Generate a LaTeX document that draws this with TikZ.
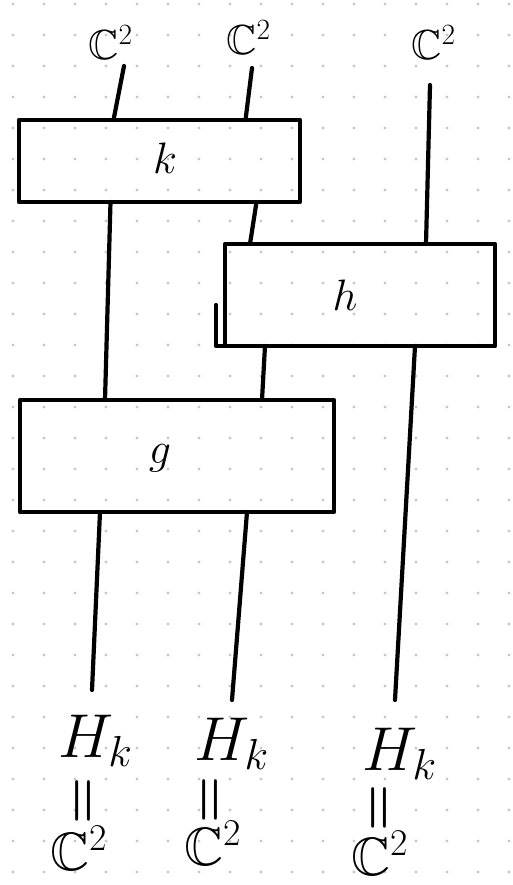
\RequirePackage{fix-cm}
\documentclass[tikz,border=0pt]{standalone}
\usepackage{amssymb}
\definecolor{dotc}{RGB}{200,200,200}
\begin{document}
\begin{tikzpicture}[x=1pt,y=-1pt,
  ink/.style={line width=4.2pt,line cap=round,line join=round},
  box/.style={draw,ink,rectangle,inner sep=0pt,outer sep=0pt},
  wire/.style={draw,ink},
  boxlab/.style={font=\fontsize{44}{50}\selectfont},
  toplab/.style={anchor=base west,inner sep=0pt,font=\fontsize{42}{48}\selectfont},
  hlab/.style={anchor=base west,inner sep=0pt,font=\fontsize{62}{70}\selectfont},
  botlab/.style={anchor=base west,inner sep=0pt,font=\fontsize{54}{60}\selectfont},
  eqlab/.style={rotate=90,inner sep=0pt,font=\fontsize{54}{60}\selectfont\bfseries}]
\useasboundingbox (0,0) rectangle (512,885);
% dot grid
\foreach \i in {0,...,16}{\foreach \j in {0,...,28}{\fill[dotc] (13+31*\i,4+31*\j) circle (1.6pt);}}
% boxes
\node[box,minimum width=281pt,minimum height=82pt] (k) at (159.5,161) {};
\node[box,minimum width=270pt,minimum height=102pt] (h) at (360,295) {};
\node[box,minimum width=314pt,minimum height=112pt] (g) at (177,456) {};
\node[boxlab] (klab) at (165,158) {$k$};
\node[boxlab] (hlab) at (345,295) {$h$};
\node[boxlab] (glab) at (160,458) {$g$};
% extra stroke on h's left side
\coordinate (hx1) at (216,305);
\coordinate (hx2) at (216,346);
\draw[ink] (hx1) -- (hx2) -- (h.south west);
% top labels
\node[toplab] (t1) at (88,60) {$\mathbb{C}^2$};
\node[toplab] (t2) at (226,55) {$\mathbb{C}^2$};
\node[toplab] (t3) at (411,60) {$\mathbb{C}^2$};
\coordinate (t1w) at (124,66);
\coordinate (t2w) at (252,68);
\coordinate (t3w) at (430,85);
% bottom labels
\node[hlab] (H1) at (58,757) {$H_k$};
\node[hlab] (H2) at (194,760) {$H_k$};
\node[hlab] (H3) at (362,770) {$H_k$};
\node[eqlab] (e1) at (86,801) {=};
\node[eqlab] (e2) at (213,800) {=};
\node[eqlab] (e3) at (382,808) {=};
\node[botlab] (c1) at (50,870) {$\mathbb{C}^2$};
\node[botlab] (c2) at (184,865) {$\mathbb{C}^2$};
\node[botlab] (c3) at (351,875) {$\mathbb{C}^2$};
\coordinate (b1w) at (92,690);
\coordinate (b2w) at (232,700);
\coordinate (b3w) at (395,700);
% wires
\draw[wire] (t1w) -- ([xshift=-46pt]k.north);
\draw[wire] (t2w) -- ([xshift=86pt]k.north);
\draw[wire] (t3w) -- ([xshift=66pt]h.north);
\draw[wire] ([xshift=-49pt]k.south) -- ([xshift=-72pt]g.north);
\draw[wire] ([xshift=97pt]k.south) -- ([xshift=-110pt]h.north);
\draw[wire] ([xshift=-95pt]h.south) -- ([xshift=85pt]g.north);
\draw[wire] ([xshift=55pt]h.south) -- (b3w);
\draw[wire] ([xshift=-77pt]g.south) -- (b1w);
\draw[wire] ([xshift=70pt]g.south) -- (b2w);
\end{tikzpicture}
\end{document}
